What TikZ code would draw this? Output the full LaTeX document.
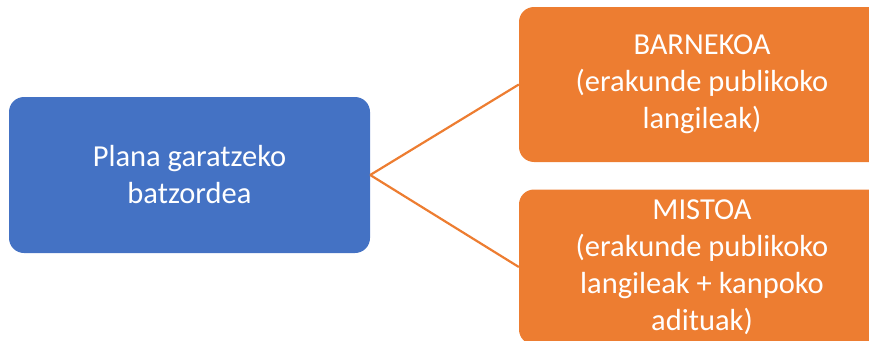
\documentclass[tikz,border=0pt]{standalone}
\usepackage{fontspec}
\setmainfont{Carlito}
\usepackage{tikz}
\definecolor{blue}{HTML}{4472C4}
\definecolor{orange}{HTML}{ED7D31}
\tikzset{
  box/.style={rounded corners=15pt, text=white, align=center,
    font=\fontsize{30.5}{37}\selectfont, inner sep=0pt},
  bluebox/.style={box, fill=blue, minimum width=361pt, minimum height=156pt},
  orangebox/.style={box, fill=orange, minimum width=366pt, minimum height=155pt},
}

\begin{document}
\begin{tikzpicture}[x=1pt,y=-1pt]

    \useasboundingbox (0,0) rectangle (869,340);
    \clip (0,0) rectangle (869,340);

    \node[bluebox] (plan) at (189.5,175) {Plana garatzeko\\batzordea};
    \node[orangebox] (barne) at (702,84.5) {BARNEKOA\\(erakunde publikoko\\langileak)};
    \node[orangebox] (misto) at (702,267) {MISTOA\\(erakunde publikoko\\langileak + kanpoko\\adituak)};

    \draw[orange, line width=2.2] (plan.east) -- (barne.west);
    \draw[orange, line width=2.2] (plan.east) -- (misto.west);

\end{tikzpicture}
\end{document}
